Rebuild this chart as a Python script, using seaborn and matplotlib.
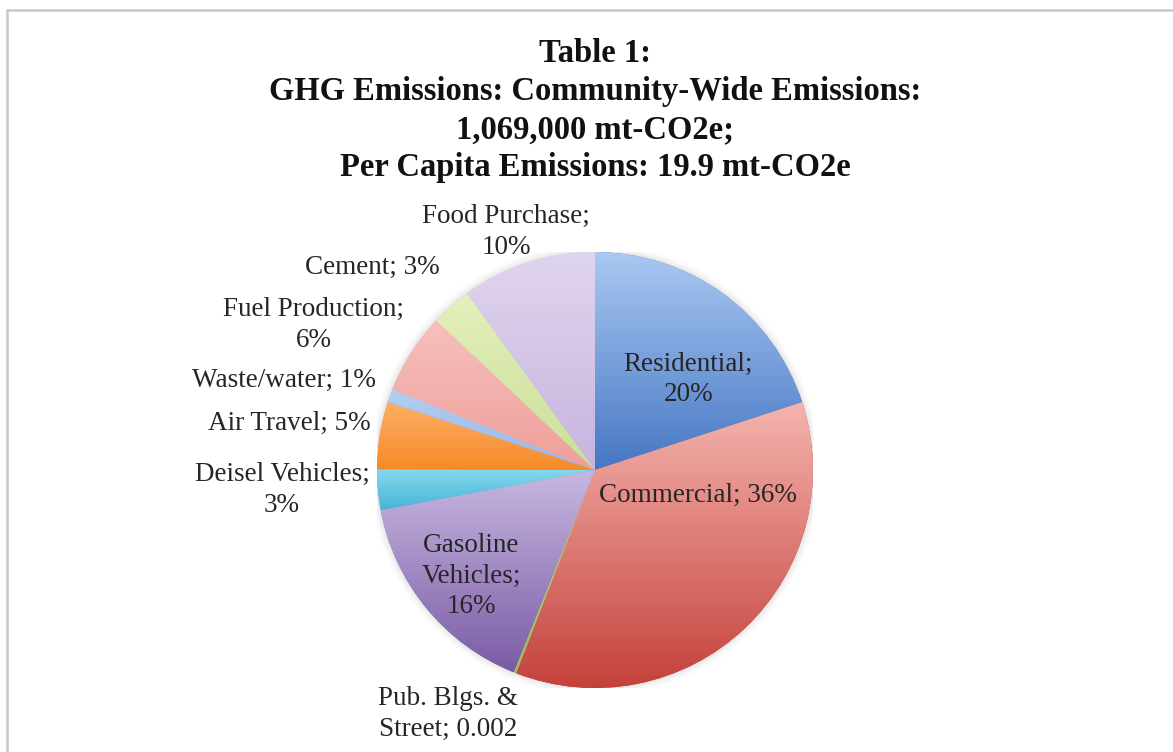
import numpy as np
import matplotlib
matplotlib.use("Agg")
import matplotlib.pyplot as plt
import seaborn as sns
from matplotlib.colors import LinearSegmentedColormap
from matplotlib.lines import Line2D
from matplotlib.patches import Circle

# ---- data ----
categories = ["Residential", "Commercial", "Pub. Blgs. & Street", "Gasoline Vehicles",
              "Deisel Vehicles", "Air Travel", "Waste/water", "Fuel Production",
              "Cement", "Food Purchase"]
shares = [20, 36, 0.2, 16, 3, 5, 1, 6, 3, 10]
share_text = ["20%", "36%", "0.002", "16%", "3%", "5%", "1%", "6%", "3%", "10%"]
label_text = ["Residential;\n20%", "Commercial; 36%", "Pub. Blgs. &\nStreet; 0.002",
              "Gasoline\nVehicles;\n16%", "Deisel Vehicles;\n3%", "Air Travel; 5%",
              "Waste/water; 1%", "Fuel Production;\n6%", "Cement; 3%", "Food Purchase;\n10%"]
title_lines = ["Table 1:", "GHG Emissions: Community-Wide Emissions:",
               "1,069,000 mt-CO2e;", "Per Capita Emissions: 19.9 mt-CO2e"]

# ---- style ----
top_colors = ["#aac8f2", "#f5b4ae", "#c3dc8a", "#c8b8e0", "#86d9ee", "#fcb066",
              "#b4cef2", "#f7c0bc", "#e4f0bc", "#e0d5ef"]
bot_colors = ["#4677c4", "#c4403a", "#9bbb59", "#7a5ba6", "#45b5d6", "#f68a28",
              "#98b6e6", "#ee9e9a", "#cadf98", "#c6b4de"]
label_pos = [(0.427, 0.417), (0.472, -0.115), (-0.674, -1.119), (-0.569, -0.486),
             (-1.436, -0.092), (-1.404, 0.216), (-1.427, 0.413), (-1.289, 0.665),
             (-1.023, 0.931), (-0.408, 1.092)]

sns.set_theme(style="white")
plt.rcParams["font.family"] = ["Liberation Serif", "DejaVu Serif"]

W, H = 1173, 752
fig = plt.figure(figsize=(W / 100, H / 100), dpi=100)
fig.patch.set_facecolor("white")

# frame (left + top edges of the chart area)
fig.add_artist(Line2D([7 / W, 7 / W], [0, 1 - 10 / H], color="#c8c8c8", lw=1.8,
                      transform=fig.transFigure))
fig.add_artist(Line2D([7 / W, 1], [1 - 10 / H, 1 - 10 / H], color="#c8c8c8", lw=1.8,
                      transform=fig.transFigure))

cx, cy, R = 595, 470, 218
ax = fig.add_axes([(cx - R) / W, (H - cy - R) / H, 2 * R / W, 2 * R / H])

# soft shadow
for k, a in zip([1.035, 1.025, 1.015, 1.007], [0.03, 0.04, 0.05, 0.07]):
    ax.add_patch(Circle((0, 0), k, facecolor="#808080", edgecolor="none", alpha=a,
                        zorder=0))

wedges, _ = ax.pie(shares, startangle=90, counterclock=False, radius=1,
                   colors=bot_colors, wedgeprops=dict(linewidth=0))

grad = np.linspace(0, 1, 256).reshape(-1, 1)
for w, c0, c1 in zip(wedges, top_colors, bot_colors):
    verts = w.get_path().vertices
    x0, x1 = verts[:, 0].min(), verts[:, 0].max()
    y0, y1 = verts[:, 1].min(), verts[:, 1].max()
    cmap = LinearSegmentedColormap.from_list("g", [c1, c0])
    im = ax.imshow(grad, extent=[x0, x1, y0, y1], origin="lower", cmap=cmap,
                   aspect="auto", zorder=2, interpolation="bilinear")
    im.set_clip_path(w)

ax.set_xlim(-1, 1)
ax.set_ylim(-1, 1)
ax.set_aspect("equal")
ax.axis("off")

for txt, (lx, ly) in zip(label_text, label_pos):
    ax.text(lx, ly, txt, ha="center", va="center", fontsize=19.5, color="#262626",
            linespacing=1.28, zorder=5)

baselines = [62, 100, 138, 176]
for line, b in zip(title_lines, baselines):
    fig.text(595 / W, 1 - b / H, line, ha="center", va="baseline", fontsize=23.5,
             fontweight="bold", color="#111111")

fig.savefig("out.png", dpi=100, facecolor="white")
